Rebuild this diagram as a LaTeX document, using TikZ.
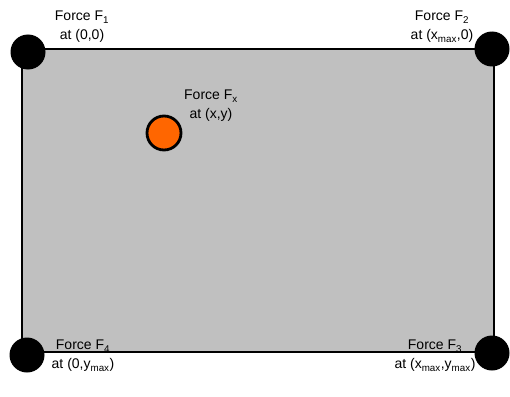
\documentclass[tikz,border=0pt]{standalone}
\usepackage{fontspec}
\setmainfont{Liberation Sans}
\usepackage{tikz}
\definecolor{plategray}{RGB}{192,192,192}
\definecolor{forceorange}{RGB}{255,102,0}

\tikzset{
  corner/.style={circle, fill=black, minimum size=35pt, inner sep=0pt},
  load/.style={circle, draw=black, line width=2.8pt, fill=forceorange, minimum size=34pt, inner sep=0pt},
  flabel/.style={align=center, font=\fontsize{14}{19}\selectfont, inner sep=0pt}
}

\begin{document}
\begin{tikzpicture}[x=1pt, y=-1pt]
            \useasboundingbox (0,0) rectangle (510,396);
            % Plate
            \draw[fill=plategray, line width=1.8pt] (22,49) rectangle (494,352);
            
            % Corner forces
            \node[corner] (c1) at (28,52) {};
            \node[corner] (c2) at (492,49) {};
            \node[corner] (c3) at (492,353) {};
            \node[corner] (c4) at (27,355) {};
            
            \node[flabel] (l1) at (82,27) {Force F\textsubscript{1}\\at (0,0)};
            \node[flabel] (l2) at (442,27) {Force F\textsubscript{2}\\at (x\textsubscript{max},0)};
            \node[flabel] (l3) at (435,356) {Force F\textsubscript{3}\\at (x\textsubscript{max},y\textsubscript{max})};
            \node[flabel] (l4) at (83,356) {Force F\textsubscript{4}\\at (0,y\textsubscript{max})};
            
            % Force at (x,y)
            \node[load] (fx) at (164,133) {};
            \node[flabel] (lx) at (211,106) {Force F\textsubscript{x}\\at (x,y)};
        \end{tikzpicture}
\end{document}
